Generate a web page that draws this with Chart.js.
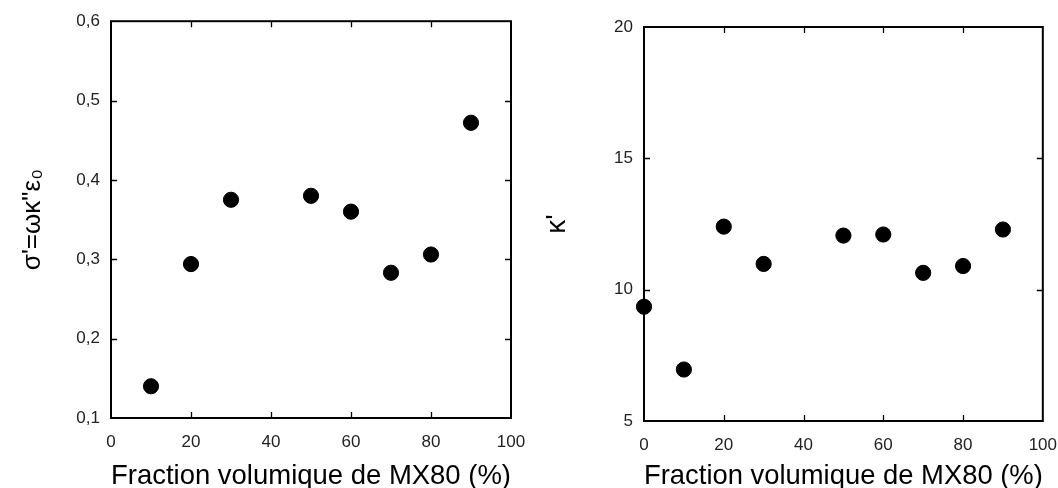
<!DOCTYPE html>
<html>
<head>
<meta charset="utf-8">
<script src="https://cdn.jsdelivr.net/npm/chart.js@4.4.1/dist/chart.umd.min.js"></script>
<style>
  html, body { margin: 0; padding: 0; background: #fff; }
  body { width: 1058px; height: 488px; position: relative; overflow: hidden; }
  .box { position: absolute; top: 0; height: 488px; }
  #b1 { left: 0; width: 540px; }
  #b2 { left: 540px; width: 531px; }
</style>
</head>
<body>
<div class="box" id="b1"><canvas id="c1"></canvas></div>
<div class="box" id="b2"><canvas id="c2"></canvas></div>
<script>
// ---- data ----
const xTitle = 'Fraction volumique de MX80 (%)';
const xTickValues = [0, 20, 40, 60, 80, 100];

const sigmaX = [10, 20, 30, 50, 60, 70, 80, 90];
const sigmaY = [0.14, 0.294, 0.375, 0.380, 0.360, 0.283, 0.306, 0.472];
const sigmaTickLabels = ['0,1', '0,2', '0,3', '0,4', '0,5', '0,6'];
const sigmaTitle = 'σ\'=ωκ"ε₀';

const kappaX = [0, 10, 20, 30, 50, 60, 70, 80, 90];
const kappaY = [9.35, 6.96, 12.4, 10.98, 12.06, 12.1, 10.64, 10.9, 12.29];
const kappaTickLabels = ['5', '10', '15', '20'];
const kappaTitle = "κ'";

// ---- rendering ----
const FONT = "'Liberation Sans', Arial, sans-serif";

const framePlugin = {
  id: 'frame',
  afterDatasetsDraw(chart) {
    const { ctx, chartArea: { left, top, right, bottom }, scales: { x, y } } = chart;
    ctx.save();
    ctx.strokeStyle = '#000';
    ctx.lineWidth = 1.3;
    const L = 6;
    ctx.beginPath();
    x.ticks.forEach(t => {
      if (t.value <= x.min || t.value >= x.max) return;
      const px = Math.round(x.getPixelForValue(t.value)) + 0.5;
      ctx.moveTo(px, bottom); ctx.lineTo(px, bottom - L);
      ctx.moveTo(px, top); ctx.lineTo(px, top + L);
    });
    y.ticks.forEach(t => {
      if (t.value <= y.min + 1e-9 || t.value >= y.max - 1e-9) return;
      const py = Math.round(y.getPixelForValue(t.value)) + 0.5;
      ctx.moveTo(left, py); ctx.lineTo(left + L, py);
      ctx.moveTo(right, py); ctx.lineTo(right - L, py);
    });
    ctx.stroke();
    ctx.lineWidth = 2;
    ctx.strokeRect(left, top, right - left, bottom - top);
    ctx.restore();
  }
};

function makeChart(id, xs, ys, yMin, yMax, yStep, yLabels, yTitle, cfg) {
  const data = xs.map((v, i) => ({ x: v, y: ys[i] }));
  return new Chart(document.getElementById(id), {
    type: 'scatter',
    data: { datasets: [{ data, backgroundColor: '#000', borderColor: '#000',
      pointRadius: 7.6, pointHoverRadius: 7.6, clip: false }] },
    options: {
      responsive: true, maintainAspectRatio: false, animation: false,
      layout: { padding: { top: cfg.top, right: cfg.right, left: 0, bottom: 0 } },
      plugins: { legend: { display: false }, tooltip: { enabled: false } },
      scales: {
        x: {
          type: 'linear', min: 0, max: 100,
          afterBuildTicks: s => { s.ticks = xTickValues.map(v => ({ value: v })); },
          grid: { display: false, drawTicks: false },
          border: { display: false },
          ticks: { color: '#222', font: { family: FONT, size: 17 }, padding: 14, maxRotation: 0,
            callback: v => String(v) },
          title: { display: true, text: xTitle, color: '#000',
            font: { family: FONT, size: 28, lineHeight: 0.85 }, padding: { top: 6, bottom: 0 } },
          afterFit: s => { s.height = cfg.xh; }
        },
        y: {
          type: 'linear', min: yMin, max: yMax,
          afterBuildTicks: s => { s.ticks = yLabels.map((l, i) => ({ value: yMin + i * yStep })); },
          grid: { display: false, drawTicks: false },
          border: { display: false },
          ticks: { color: '#222', font: { family: FONT, size: 17 }, padding: 11,
            callback: (v, i) => yLabels[i] },
          title: { display: true, text: yTitle, color: '#000',
            font: { family: FONT, size: cfg.ytf }, padding: { top: cfg.ytp, bottom: 0 } },
          afterFit: s => { s.width = cfg.yw; }
        }
      }
    },
    plugins: [framePlugin]
  });
}

makeChart('c1', sigmaX, sigmaY, 0.1, 0.6, 0.1, sigmaTickLabels, sigmaTitle,
  { top: 17, right: 29, xh: 70, yw: 111, ytp: 17, ytf: 26 });
makeChart('c2', kappaX, kappaY, 5, 20, 5, kappaTickLabels, kappaTitle,
  { top: 27, right: 16, xh: 67, yw: 104, ytp: 0, ytf: 28 });
</script>
</body>
</html>
